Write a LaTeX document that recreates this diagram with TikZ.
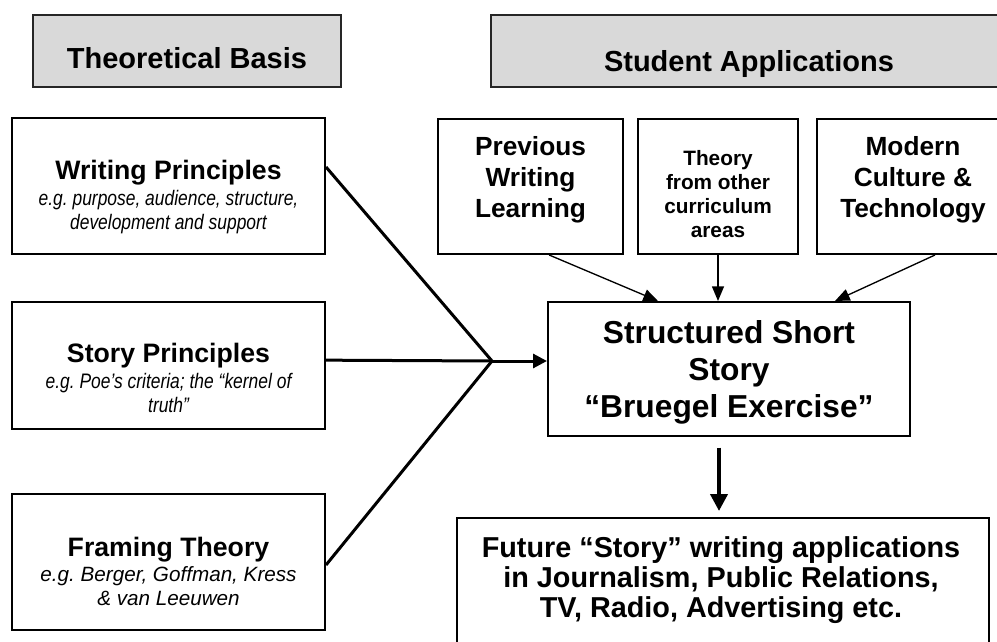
\documentclass[tikz,border=0pt]{standalone}
\usepackage{fontspec}
\setmainfont{Liberation Sans}
\newfontfamily\narrowsans[FakeStretch=0.83]{Liberation Sans}
\usetikzlibrary{arrows.meta}
\frenchspacing

\newcommand{\headfont}{\bfseries\fontsize{21.75}{26}\selectfont}
\newcommand{\titlefont}{\normalfont\bfseries\fontsize{20}{24}\selectfont}
\newcommand{\notefont}{\narrowsans\itshape\fontsize{15.75}{17.6}\selectfont}

\begin{document}
\begin{tikzpicture}[x=0.75pt, y=-0.75pt,
        box/.style={draw, line width=1.5pt, inner sep=0pt},
        head/.style={box, fill=black!15, draw=black!85, minimum height=54pt},
        txt/.style={anchor=north, align=center, inner sep=0pt},
        feed/.style={line width=2.25pt},
        thin arrow/.style={line width=1pt, -{Triangle[length=11pt, width=9pt]}}]
        \useasboundingbox (0,0) rectangle (997,642);

        % the headers
        \node[head, minimum width=231pt] (basis) at (187,51) {};
        \node[head, minimum width=387pt] (apps) at (749,51) {};
        \node[txt, font=\headfont] (basis-t) at (187,47) {Theoretical Basis};
        \node[txt, font=\headfont] (apps-t) at (749,50) {Student Applications};

        % the boxes
        \node[box, minimum width=234.75pt, minimum height=102pt] (writing) at (168.5,186) {};
        \node[box, minimum width=234.75pt, minimum height=95.25pt] (story) at (168.5,365.5) {};
        \node[box, minimum width=234.75pt, minimum height=102pt] (framing) at (168.5,562) {};
        \node[box, minimum width=138.75pt, minimum height=101.25pt] (prev) at (530.5,186.5) {};
        \node[box, minimum width=120pt, minimum height=101.25pt] (other) at (718,186.5) {};
        \node[box, minimum width=144pt, minimum height=101.25pt] (modern) at (913,186.5) {};
        \node[box, minimum width=271.5pt, minimum height=100.5pt] (bruegel) at (729,369) {};
        \node[box, minimum width=399pt, minimum height=105pt] (future) at (723,588) {};

        % the texts
        \node[txt, font=\notefont] (writing-t) at (168.5,160)
            {{\titlefont Writing Principles}\\[2pt]e.g. purpose, audience, structure,\\development and support};
        \node[txt, font=\notefont] (story-t) at (168.5,343)
            {{\titlefont Story Principles}\\[2pt]e.g. Poe’s criteria; the “kernel of\\truth”};
        \node[txt, font=\itshape\fontsize{15.5}{18}\selectfont] (framing-t) at (168.5,537)
            {{\titlefont Framing Theory}\\[1pt]e.g. Berger, Goffman, Kress\\\& van Leeuwen};
        \node[txt, font=\bfseries\fontsize{19.7}{23.25}\selectfont] (prev-t) at (530.5,136) {Previous\\Writing\\Learning};
        \node[txt, font=\bfseries\fontsize{15.6}{18}\selectfont] (other-t) at (718,150) {Theory\\from other\\curriculum\\areas};
        \node[txt, font=\bfseries\fontsize{19.7}{23.25}\selectfont] (modern-t) at (913,136) {Modern\\Culture \&\\Technology};
        \node[txt, font=\bfseries\fontsize{23.8}{27.75}\selectfont] (bruegel-t) at (729,320)
            {Structured Short\\Story\\“Bruegel Exercise”};
        \node[txt, font=\bfseries\fontsize{21.6}{22.5}\selectfont] (future-t) at (721,536)
            {Future “Story” writing applications\\in Journalism, Public Relations,\\TV, Radio, Advertising etc.};

        % draw the arrows
        \coordinate (hub) at (492,361);
        \draw[feed] ([yshift=14.25pt]writing.east) -- (hub) -- ([yshift=-2.25pt]framing.east);
        \draw[feed] ([yshift=4pt]story.east) -- (hub);
        \draw[feed, -{Triangle[length=10.5pt, width=10.5pt]}] (hub) -- ([yshift=6pt]bruegel.west);
        \draw[thin arrow] ([xshift=14pt]prev.south) -- ([xshift=-53.25pt]bruegel.north);
        \draw[thin arrow] (other.south) -- ([xshift=-8.25pt]bruegel.north);
        \draw[thin arrow] ([xshift=16.5pt]modern.south) -- ([xshift=79.5pt]bruegel.north);
        \draw[line width=3pt, -{Triangle[length=12.75pt, width=12.75pt]}, shorten <=8pt, shorten >=4.5pt]
            ([xshift=-7.5pt]bruegel.south) -- ([xshift=-3pt]future.north);

\end{tikzpicture}
\end{document}
